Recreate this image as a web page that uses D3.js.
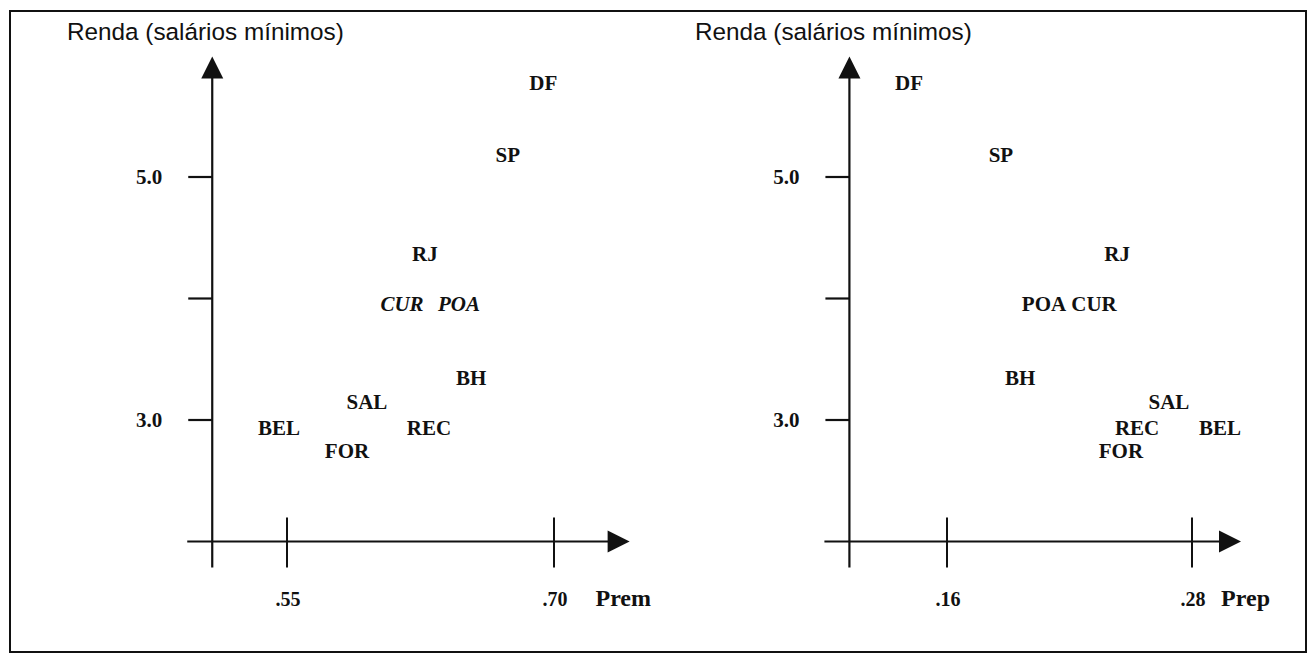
<!DOCTYPE html>
<html>
<head>
<meta charset="utf-8">
<script src="https://cdn.jsdelivr.net/npm/d3@7"></script>
<style>
  html, body { margin: 0; padding: 0; background: #fff; }
  svg { display: block; }
</style>
</head>
<body>
<svg id="chart" width="1315" height="656"></svg>
<script>
// ---------------- DATA ----------------
const cities = ["DF", "SP", "RJ", "CUR", "POA", "BH", "SAL", "BEL", "REC", "FOR"];
const renda  = [5.78, 5.18, 4.37, 3.96, 3.96, 3.35, 3.15, 2.94, 2.94, 2.75];
const prem   = [0.694, 0.674, 0.6275, 0.6146, 0.6466, 0.6534, 0.5949, 0.5455, 0.6298, 0.5837];
const prep   = [0.1414, 0.1864, 0.2433, 0.2320, 0.2075, 0.1958, 0.2687, 0.2937, 0.2531, 0.2452];
const yTickValues = [5.0, 4.0, 3.0];
const yTickLabels = ["5.0", "", "3.0"];
const premTicks = [0.55, 0.70];
const premTickLabels = [".55", ".70"];
const prepTicks = [0.16, 0.28];
const prepTickLabels = [".16", ".28"];
const yTitle = "Renda (salários mínimos)";
const premName = "Prem";
const prepName = "Prep";

// ---------------- LAYOUT ----------------
const svg = d3.select("#chart");
const serif = "'Liberation Serif','Times New Roman',serif";
const sans = "'Liberation Sans',Arial,Helvetica,sans-serif";

svg.append("rect")
  .attr("x", 10).attr("y", 11).attr("width", 1296).attr("height", 641)
  .attr("fill", "none").attr("stroke", "#111").attr("stroke-width", 2);

const yScale = d3.scaleLinear().domain([2, 6]).range([541.5, 55.5]);

const panels = [
  {
    xs: prem, ticks: premTicks, tickLabels: premTickLabels, name: premName,
    x: d3.scaleLinear().domain([0.55, 0.70]).range([287, 554]),
    origin: 0.508, end: 0.7425, leftExt: 25,
    titleX: 67, nameX: 651, italic: new Set(["CUR", "POA"])
  },
  {
    xs: prep, ticks: prepTicks, tickLabels: prepTickLabels, name: prepName,
    x: d3.scaleLinear().domain([0.16, 0.28]).range([947, 1192]),
    origin: 0.1122, end: 0.304, leftExt: 25,
    titleX: 695, nameX: 1270, italic: new Set()
  }
];

panels.forEach(p => {
  const g = svg.append("g");
  const ax = p.x(p.origin);
  const ay = yScale(2);
  const tipX = p.x(p.end);
  const tipY = yScale(6) + 1;

  // title
  g.append("text").attr("x", p.titleX).attr("y", 40)
    .attr("font-family", sans).attr("font-size", 24.3).attr("fill", "#111")
    .text(yTitle);

  // y axis line + arrow
  g.append("line").attr("x1", ax).attr("x2", ax)
    .attr("y1", tipY + 18).attr("y2", ay + 26)
    .attr("stroke", "#111").attr("stroke-width", 2.2);
  g.append("path")
    .attr("d", `M${ax},${tipY} L${ax - 11},${tipY + 22} L${ax + 11},${tipY + 22} Z`)
    .attr("fill", "#111");

  // x axis line + arrow
  g.append("line").attr("x1", ax - p.leftExt).attr("x2", tipX - 18)
    .attr("y1", ay).attr("y2", ay)
    .attr("stroke", "#111").attr("stroke-width", 2.2);
  g.append("path")
    .attr("d", `M${tipX},${ay} L${tipX - 22},${ay - 11} L${tipX - 22},${ay + 11} Z`)
    .attr("fill", "#111");

  // y ticks
  yTickValues.forEach((v, i) => {
    const ty = yScale(v);
    g.append("line").attr("x1", ax - 24).attr("x2", ax)
      .attr("y1", ty).attr("y2", ty)
      .attr("stroke", "#111").attr("stroke-width", 2.2);
    if (yTickLabels[i]) {
      g.append("text").attr("x", ax - 63).attr("y", ty + 7)
        .attr("text-anchor", "middle")
        .attr("font-family", serif).attr("font-weight", "bold")
        .attr("font-size", 21).attr("fill", "#111")
        .text(yTickLabels[i]);
    }
  });

  // x ticks
  p.ticks.forEach((v, i) => {
    const tx = p.x(v);
    g.append("line").attr("x1", tx).attr("x2", tx)
      .attr("y1", ay - 24).attr("y2", ay + 26)
      .attr("stroke", "#111").attr("stroke-width", 2);
    g.append("text").attr("x", tx + 1).attr("y", ay + 64)
      .attr("text-anchor", "middle")
      .attr("font-family", serif).attr("font-weight", "bold")
      .attr("font-size", 20).attr("fill", "#111")
      .text(p.tickLabels[i]);
  });

  // axis name
  g.append("text").attr("x", p.nameX).attr("y", ay + 64)
    .attr("text-anchor", "end")
    .attr("font-family", serif).attr("font-weight", "bold")
    .attr("font-size", 24).attr("fill", "#111")
    .text(p.name);

  // city labels
  g.selectAll("text.city").data(cities).enter().append("text")
    .attr("class", "city")
    .attr("x", (d, i) => p.x(p.xs[i]))
    .attr("y", (d, i) => yScale(renda[i]))
    .attr("dy", "0.35em")
    .attr("text-anchor", "middle")
    .attr("font-family", serif).attr("font-weight", "bold")
    .attr("font-style", d => p.italic.has(d) ? "italic" : "normal")
    .attr("font-size", 21).attr("fill", "#111")
    .text(d => d);
});
</script>
</body>
</html>
